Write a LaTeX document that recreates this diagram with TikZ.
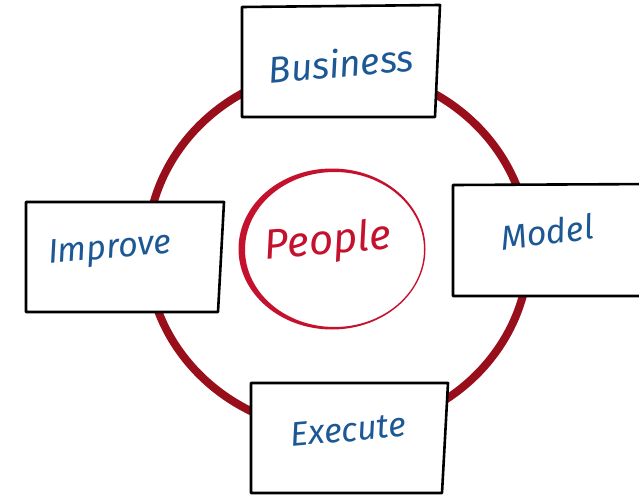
\documentclass[tikz,border=0pt]{standalone}
\usepackage{fontspec}
\usetikzlibrary{shapes.geometric, positioning}
\newfontfamily\handfont{Fira Sans}
\definecolor{ringred}{RGB}{152,14,27}
\definecolor{peoplered}{RGB}{196,18,46}
\definecolor{textblue}{RGB}{28,88,148}

\begin{document}
\begin{tikzpicture}[x=1pt, y=-1pt,
    stagebox/.style={draw=black, line width=2.6pt, fill=white, line join=round},
    stagetext/.style={text=textblue, font=\handfont\itshape\fontsize{34}{38}\selectfont, inner sep=0pt},
    peopletext/.style={text=peoplered, font=\handfont\itshape\fontsize{42}{46}\selectfont, inner sep=0pt}]
    \useasboundingbox (0,0) rectangle (639,495);
    \clip (0,0) rectangle (639,495);

    % Outer cycle ring
    \draw[ringred, line width=8pt] (338,250) ellipse [x radius=191, y radius=181];

    % Centre circle, thicker on the left like a pen stroke
    \fill[peoplered, even odd rule] (332,249) ellipse [x radius=93.5, y radius=80.5]
        (334.5,249.5) ellipse [x radius=89.5, y radius=77.5];
    \node[peopletext, rotate=5] (people) at (328,243) {People};

    % Stage boxes, drawn by hand
    \draw[stagebox] (242,7) -- (440,5) -- (435,117) -- (242,117) -- cycle;
    \draw[stagebox] (26,202) -- (224,202) -- (218,312) -- (26,312) -- cycle;
    \draw[stagebox] (453,185) -- (660,184) -- (660,296) -- (453,296) -- cycle;
    \draw[stagebox] (251,383) -- (448,383) -- (442,493) -- (251,493) -- cycle;

    % Stage labels
    \node[stagetext, rotate=5, font=\handfont\itshape\fontsize{37}{40}\selectfont] (business) at (341,63) {Business};
    \node[stagetext, rotate=5] (improve) at (110,250) {Improve};
    \node[stagetext, rotate=7] (model) at (547,232) {Model};
    \node[stagetext, rotate=5] (execute) at (348,430) {Execute};
\end{tikzpicture}
\end{document}
